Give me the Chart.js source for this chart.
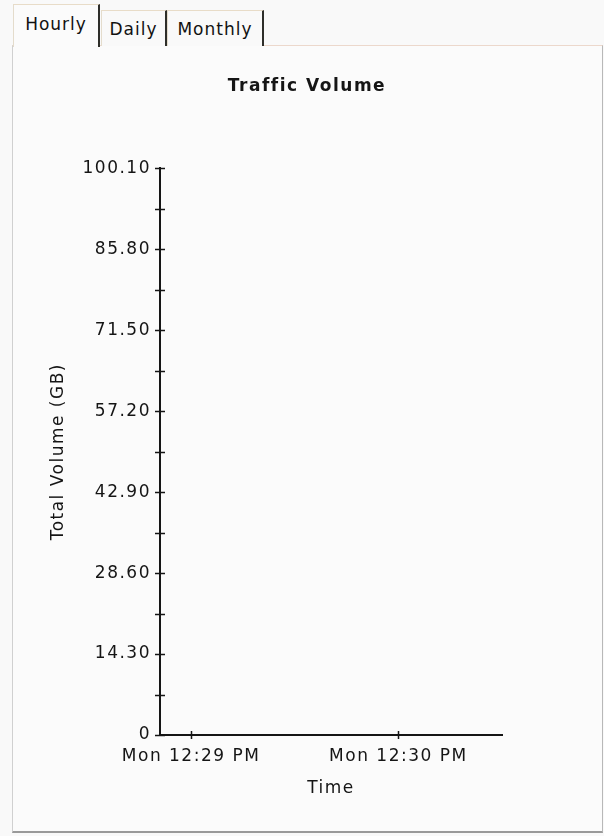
<!DOCTYPE html>
<html>
<head>
<meta charset="utf-8">
<script src="https://cdn.jsdelivr.net/npm/chart.js@4"></script>
<style>
  body { margin: 0; background: #f9f9f9; font-family: "DejaVu Sans", sans-serif; }
  #page { position: relative; width: 604px; height: 836px; overflow: hidden; }
  .tab { position: absolute; box-sizing: border-box; background: #f9f9f9;
         border-left: 1px solid #e4dccc; border-top: 1px solid #e8dcc8; border-right: 2px solid #2e2e2a;
         font-size: 17px; letter-spacing: 1px; color: #111; text-align: center; }
  #panel { position: absolute; left: 12px; top: 45px; width: 591px; height: 788px; box-sizing: border-box;
           background: #fbfbfb; border-left: 1px solid #d0d0d0; border-top: 1px solid #ecd8cc;
           border-right: 1px solid #b8b8b8; border-bottom: 2px solid #9a9a9a; }
  #chart { position: absolute; left: 13px; top: 47px; }
</style>
</head>
<body>
<div id="page">
  <div id="panel"></div>
  <div class="tab" style="left:13px;top:4px;width:87px;height:43px;line-height:38px;border-bottom:none;background:#fbfbfb;">Hourly</div>
  <div class="tab" style="left:101px;top:10px;width:66px;height:36px;line-height:36px;">Daily</div>
  <div class="tab" style="left:167px;top:10px;width:97px;height:36px;line-height:36px;">Monthly</div>
  <canvas id="chart" width="588" height="784"></canvas>
</div>
<script>
// Traffic volume, hourly tab (no traffic recorded yet)
const timeSeconds = [];      // sample times, seconds since midnight
const volumeGB = [];         // total volume per sample

// x axis: Mon 12:29 PM and Mon 12:30 PM
const xTickValues = [44940, 45000];
const xTickLabels = ['Mon 12:29 PM', 'Mon 12:30 PM'];
const xRange = [44931, 45030];

// y axis: 0 .. 100.10, minor step 7.15, labels every 14.30
const yTickValues = [0, 7.15, 14.3, 21.45, 28.6, 35.75, 42.9, 50.05, 57.2, 64.35, 71.5, 78.65, 85.8, 92.95, 100.1];

const ink = '#151515';
const font = { family: '"DejaVu Sans", sans-serif', size: 17 };

const spacing = {
  id: 'spacing',
  beforeLayout(chart) { chart.ctx.letterSpacing = '1.5px'; },
  beforeDraw(chart) { chart.ctx.letterSpacing = '1.5px'; }
};

// small crossing tick marks on both axes
const crossTicks = {
  id: 'crossTicks',
  afterDraw(chart) {
    const ctx = chart.ctx;
    const x = chart.scales.x, y = chart.scales.y;
    const left = chart.chartArea.left, bottom = chart.chartArea.bottom;
    ctx.save();
    ctx.strokeStyle = ink;
    ctx.lineWidth = 1.5;
    ctx.beginPath();
    y.ticks.forEach(t => {
      const py = Math.round(y.getPixelForValue(t.value)) + 0.5;
      ctx.moveTo(left - 5, py);
      ctx.lineTo(left + 5, py);
    });
    x.ticks.forEach(t => {
      const px = Math.round(x.getPixelForValue(t.value)) + 0.5;
      ctx.moveTo(px, bottom - 4);
      ctx.lineTo(px, bottom + 4);
    });
    ctx.stroke();
    ctx.restore();
  }
};

new Chart(document.getElementById('chart'), {
  type: 'line',
  data: {
    datasets: [{
      label: 'Total Volume (GB)',
      data: timeSeconds.map((t, i) => ({ x: t, y: volumeGB[i] })),
      borderColor: ink,
      borderWidth: 1.5,
      pointRadius: 0
    }]
  },
  options: {
    responsive: false,
    animation: false,
    layout: { padding: 0 },
    plugins: {
      legend: { display: false },
      tooltip: { enabled: false },
      title: {
        display: true,
        text: 'Traffic Volume',
        color: ink,
        font: { family: font.family, size: 17, weight: 'bold' },
        padding: { top: 29, bottom: 72 }
      }
    },
    scales: {
      x: {
        type: 'linear',
        min: xRange[0],
        max: xRange[1],
        afterBuildTicks: s => { s.ticks = xTickValues.map(v => ({ value: v })); },
        afterFit: s => { s.height = 96; },
        grid: { drawOnChartArea: false, drawTicks: false },
        border: { color: ink, width: 2 },
        ticks: {
          color: ink, font, padding: 11, maxRotation: 0, autoSkip: false,
          callback: (v) => xTickLabels[xTickValues.indexOf(v)]
        },
        title: { display: true, text: 'Time', color: ink, font, padding: { top: 0, bottom: 32 } }
      },
      y: {
        min: 0,
        max: 100.1,
        afterBuildTicks: s => { s.ticks = yTickValues.map(v => ({ value: v })); },
        afterFit: s => { s.width = 147; },
        grid: { drawOnChartArea: false, drawTicks: false },
        border: { color: ink, width: 2 },
        ticks: {
          color: ink, font, padding: 9, autoSkip: false,
          callback: (v, i) => i % 2 ? '' : (v === 0 ? '0' : v.toFixed(2))
        },
        title: { display: true, text: 'Total Volume (GB)', color: ink, font, padding: { top: 35 } }
      },
      // empty right-hand gutter so the title stays centred on the whole panel
      gutter: {
        type: 'linear',
        position: 'right',
        display: true,
        afterFit: s => { s.width = 99; },
        grid: { display: false, drawTicks: false },
        border: { display: false },
        ticks: { display: false },
        title: { display: false }
      }
    }
  },
  plugins: [spacing, crossTicks]
});
</script>
</body>
</html>
